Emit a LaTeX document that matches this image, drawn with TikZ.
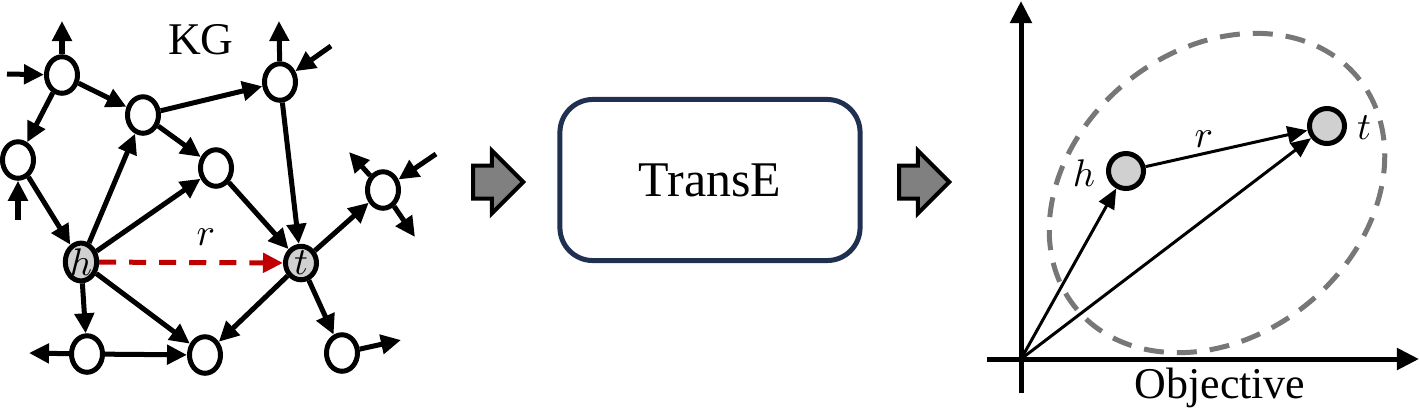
\documentclass[tikz,border=0pt]{standalone}
\usepackage{fontspec}
\setmainfont{Liberation Serif}
\usetikzlibrary{shapes.geometric}
\usetikzlibrary{shapes.arrows}
\usetikzlibrary{arrows.meta}
\usetikzlibrary{positioning}

\definecolor{entgray}{RGB}{208,208,208}
\definecolor{relred}{RGB}{192,0,0}
\definecolor{boxnavy}{RGB}{31,48,80}
\definecolor{blkgray}{RGB}{128,128,128}
\definecolor{spacegray}{RGB}{120,118,118}

\tikzset{
kgnode/.style={ellipse, draw, fill=white, line width=0.05cm, inner sep=0pt,
  minimum width=0.31cm, minimum height=0.365cm},
kgent/.style={kgnode, fill=entgray, minimum width=0.31cm, minimum height=0.33cm,
  font=\fontsize{11}{11}\selectfont},
kgedge/.style={line width=0.05cm, -{Triangle[length=0.20cm,width=0.19cm]}},
reledge/.style={kgedge, color=relred, dash pattern=on 0.17cm off 0.13cm},
kglabel/.style={inner sep=0pt, text=black, font=\fontsize{11}{11}\selectfont},
blockarrow/.style={single arrow, draw, fill=blkgray, line width=0.04cm, inner sep=0.145cm,
  minimum height=0.50cm, single arrow head extend=0.15cm},
modelbox/.style={draw=boxnavy, line width=0.05cm, rounded corners=0.33cm,
  minimum width=3.0cm, minimum height=1.61cm, font=\fontsize{14.2}{14.2}\selectfont},
axis/.style={line width=0.05cm, -{Triangle[length=0.22cm,width=0.21cm]}},
embspace/.style={ellipse, draw=spacegray, line width=0.05cm, dash pattern=on 0.2cm off 0.13cm,
  minimum width=3.64cm, minimum height=2.86cm},
vecent/.style={circle, draw, fill=entgray, line width=0.05cm, inner sep=0pt, minimum size=0.35cm},
vecedge/.style={line width=0.03cm, -{Triangle[length=0.2cm,width=0.17cm]}},
}

\begin{document}
\begin{tikzpicture}[x=0.01cm, y=-0.01cm]
\useasboundingbox (0,0) rectangle (1420,414);

\node[font=\fontsize{12.9}{12.9}\selectfont] (kg) at (201,40) {KG};
\node[kgnode] (nA) at (62,75) {};
\node[kgnode] (nB) at (143,115) {};
\node[kgnode] (nC) at (280,82) {};
\node[kgnode] (nD) at (18,160) {};
\node[kgnode] (nE) at (216,168) {};
\node[kgnode] (nF) at (383,190) {};
\node[kgent] (h) at (81,262) {$h$};
\node[kgent] (t) at (301,263) {$t$};
\node[kgnode] (nG) at (87,354) {};
\node[kgnode] (nH) at (205,355) {};
\node[kgnode] (nI) at (342,353) {};

\coordinate (sAup) at (62,21);
\coordinate (sAin) at (7,74);
\coordinate (sDin) at (18,220);
\coordinate (sCup) at (279,21);
\coordinate (sCin) at (331,46);
\coordinate (sFout1) at (349,152);
\coordinate (sFin) at (436,154);
\coordinate (sFout2) at (415,237);
\coordinate (sGout) at (29,353);
\coordinate (sIout) at (401,340);

\draw[kgedge] (nA) -- (nB);
\draw[kgedge] (nA) -- (nD);
\draw[kgedge] (nB) -- (nC);
\draw[kgedge] (nB) -- (nE);
\draw[kgedge] (nD) -- (h);
\draw[kgedge] (h) -- (nB);
\draw[kgedge] (h) -- (nE);
\draw[kgedge] (nE) -- (t);
\draw[kgedge] (nC) -- (t);
\draw[kgedge] (h) -- (nG);
\draw[kgedge] (h) -- (nH);
\draw[kgedge] (nG) -- (nH);
\draw[kgedge] (t) -- (nH);
\draw[kgedge] (t) -- (nI);
\draw[kgedge] (t) -- (nF);
\draw[kgedge] (nA) -- (sAup);
\draw[kgedge] (sAin) -- (nA);
\draw[kgedge] (sDin) -- (nD);
\draw[kgedge] (nC) -- (sCup);
\draw[kgedge] (sCin) -- (nC);
\draw[kgedge] (nF) -- (sFout1);
\draw[kgedge] (sFin) -- (nF);
\draw[kgedge] (nF) -- (sFout2);
\draw[kgedge] (nG) -- (sGout);
\draw[kgedge] (nI) -- (sIout);
\draw[reledge] (h) -- node[pos=0.58, above=0.15cm, kglabel] (rlab) {$r$} (t);

\node[blockarrow] (arrL) at (490,182) {};
\node[modelbox] (transe) at (710,180) {TransE};
\node[blockarrow] (arrR) at (916,182) {};

\coordinate (orig) at (1021,359);
\coordinate (ytip) at (1021,1);
\coordinate (ybase) at (1021,393);
\coordinate (xbase) at (987,359);
\coordinate (xtip) at (1419,359);
\node[embspace, rotate=39] (space) at (1217,193) {};
\draw[axis] (ybase) -- (ytip);
\draw[axis] (xbase) -- (xtip);
\node[font=\fontsize{12.5}{12.5}\selectfont] (objlab) at (1220,388) {Objective};

\node[vecent] (ph) at (1126,171) {};
\node[vecent] (pt) at (1327,126) {};
\node[kglabel] (phlab) at (1084,173) {$h$};
\node[kglabel] (ptlab) at (1364,128) {$t$};
\draw[vecedge] (orig) -- (ph);
\draw[vecedge] (orig) -- (pt);
\draw[vecedge] (ph) -- node[pos=0.36, above=0.05cm, kglabel] (prlab) {$r$} (pt);
\end{tikzpicture}
\end{document}
